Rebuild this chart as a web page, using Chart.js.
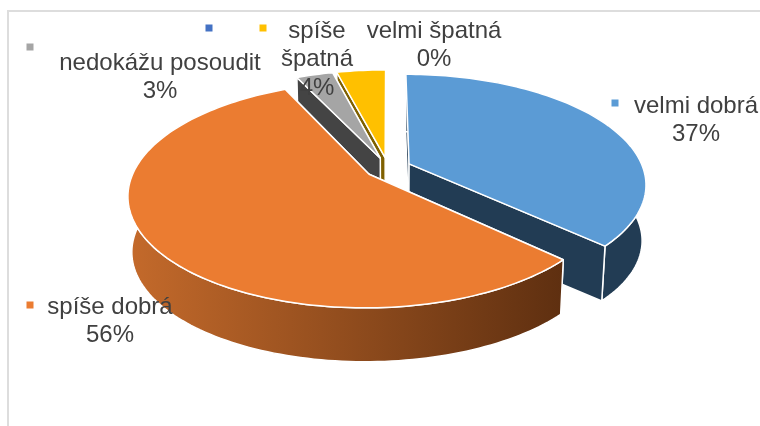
<!DOCTYPE html>
<html>
<head>
<meta charset="utf-8">
<style>
  body { margin: 0; background: #fff; }
  canvas { display: block; }
</style>
<script src="https://cdn.jsdelivr.net/npm/chart.js@4"></script>
</head>
<body>
<canvas id="pie" width="760" height="426"></canvas>
<script>
const categories = ["velmi dobrá", "spíše dobrá", "nedokážu posoudit", "velmi špatná", "spíše špatná"];
const shares = [37, 56, 3, 0, 4];
const topColors = ["#5B9BD5", "#EB7C31", "#A5A5A5", "#4472C4", "#FFC000"];
const wallColors = ["#223C54", "#5E2F10", "#444444", "#1F3460", "#7F6000"];

// text lines and marker spot for each category, same order as categories
const labelLines = [["velmi dobrá"], ["spíše dobrá"], ["nedokážu posoudit"], ["velmi špatná"], ["spíše", "špatná"]];
const labelSpots = [
  { x: 696, y: 106, mx: 615, my: 103 },
  { x: 110, y: 307, mx: 30, my: 305 },
  { x: 160, y: 63, mx: 30, my: 47 },
  { x: 434, y: 31, mx: 209, my: 28 },
  { x: 317, y: 31, mx: 263, my: 28 }
];

// back slices first, the orange one has to cover the others
const drawOrder = [4, 2, 0, 1];

// tilted view of the pie plane
const view = { cx: 388, cy: 168, ax: 234, by: 107, persp: 0.18, floor: 0.985, depth: 56 };

function project(u, v) {
  const w = 1 - view.persp * v;
  return { x: view.cx + view.ax * u / w, y: view.cy + view.by * v / w };
}

function lower(p) {
  return {
    x: view.cx + view.floor * (p.x - view.cx),
    y: view.cy + view.floor * (p.y - view.cy) + view.depth
  };
}

function tracePath(ctx, pts) {
  ctx.beginPath();
  pts.forEach((p, i) => i ? ctx.lineTo(p.x, p.y) : ctx.moveTo(p.x, p.y));
  ctx.closePath();
}

function paint(ctx, pts, fill, line, width) {
  tracePath(ctx, pts);
  ctx.fillStyle = fill;
  ctx.fill();
  ctx.strokeStyle = line;
  ctx.lineWidth = width;
  ctx.lineJoin = "round";
  ctx.stroke();
}

const tiltedPie = {
  id: "tiltedPie",
  beforeDraw(chart) {
    const ctx = chart.ctx;
    ctx.save();
    ctx.strokeStyle = "#DDDDDD";
    ctx.lineWidth = 2;
    ctx.beginPath();
    ctx.moveTo(8, 426);
    ctx.lineTo(8, 11);
    ctx.lineTo(760, 11);
    ctx.stroke();
    ctx.restore();
  },
  // slices are drawn here from the angles the pie controller worked out
  beforeDatasetsDraw(chart) {
    const ctx = chart.ctx;
    const arcs = chart.getDatasetMeta(0).data;
    ctx.save();
    drawOrder.forEach(i => {
      const arc = arcs[i];
      const span = arc.endAngle - arc.startAngle;
      if (span <= 0) return;
      const mid = (arc.startAngle + arc.endAngle) / 2;
      const shift = arc.options.offset / arc.outerRadius;
      const ox = shift * Math.cos(mid);
      const oy = shift * Math.sin(mid);

      const rim = [];
      const steps = Math.ceil(span * 40);
      for (let s = 0; s <= steps; s++) {
        const a = arc.startAngle + span * s / steps;
        rim.push(project(ox + Math.cos(a), oy + Math.sin(a)));
      }
      const apex = project(ox, oy);
      const first = rim[0];
      const last = rim[rim.length - 1];

      let rimFill = wallColors[i];
      if (i === 1) {
        rimFill = ctx.createLinearGradient(128, 0, 565, 0);
        rimFill.addColorStop(0, "#C46A2B");
        rimFill.addColorStop(1, wallColors[i]);
      }

      const border = arc.options.borderColor;
      const bw = arc.options.borderWidth;
      const startWall = () => paint(ctx, [apex, first, lower(first), lower(apex)], wallColors[i], border, bw);
      const endWall = () => paint(ctx, [apex, last, lower(last), lower(apex)], wallColors[i], border, bw);
      const outerWall = () => paint(ctx, rim.concat(rim.map(lower).reverse()), rimFill, border, bw);

      // whichever wall faces the viewer goes on last
      if (span > Math.PI) {
        startWall(); endWall(); outerWall();
      } else if (Math.cos(mid) > 0) {
        startWall(); outerWall(); endWall();
      } else {
        endWall(); outerWall(); startWall();
      }
      paint(ctx, [apex].concat(rim), arc.options.backgroundColor, border, bw);
    });
    ctx.restore();
    return false;
  },
  afterDraw(chart) {
    const ctx = chart.ctx;
    ctx.save();
    ctx.font = '24px "Liberation Sans", Arial, sans-serif';
    ctx.textAlign = "center";
    ctx.textBaseline = "middle";
    categories.forEach((name, i) => {
      const spot = labelSpots[i];
      ctx.fillStyle = topColors[i];
      ctx.fillRect(spot.mx - 3.5, spot.my - 3.5, 7, 7);
      ctx.fillStyle = "#404040";
      labelLines[i].concat(shares[i] + "%").forEach((text, n) => {
        ctx.fillText(text, spot.x, spot.y + n * 28.5);
      });
    });
    ctx.restore();
  }
};

new Chart(document.getElementById("pie"), {
  type: "pie",
  data: {
    labels: categories,
    datasets: [{
      data: shares,
      backgroundColor: topColors,
      borderColor: "#FFFFFF",
      borderWidth: 1.5,
      offset: 20
    }]
  },
  options: {
    responsive: false,
    animation: false,
    plugins: {
      legend: { display: false },
      tooltip: { enabled: false }
    }
  },
  plugins: [tiltedPie]
});
</script>
</body>
</html>
